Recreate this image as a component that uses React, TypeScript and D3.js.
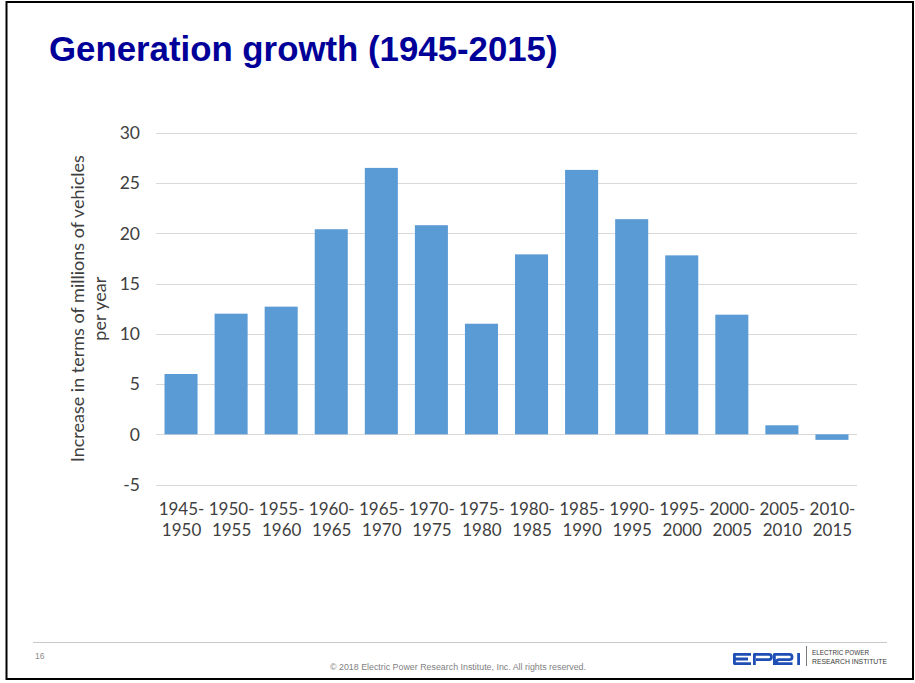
import React from "react";
import * as d3 from "d3";

// Five-year periods and the average yearly increase in vehicles (millions)
const periods = [
  "1945-1950", "1950-1955", "1955-1960", "1960-1965", "1965-1970",
  "1970-1975", "1975-1980", "1980-1985", "1985-1990", "1990-1995",
  "1995-2000", "2000-2005", "2005-2010", "2010-2015",
];
const increase = [6.0, 12.0, 12.7, 20.4, 26.5, 20.8, 11.0, 17.9, 26.3, 21.4, 17.8, 11.9, 0.9, -0.55];
const yTicks = [-5, 0, 5, 10, 15, 20, 25, 30];

const title = "Generation growth (1945-2015)";
const yTitleLines = ["Increase in  terms of millions of vehicles", "per year"];
const footerNote = "© 2018 Electric Power Research Institute, Inc. All rights reserved.";
const slideNumber = "16";

const W = 915;
const H = 683;
const plot = { left: 156, right: 857, top: 132.7, bottom: 484.6 };
const BAR = "#5b9bd5";
const GRID = "#d9d9d9";
const TEXT = "#404040";
const FONT = "Lato, 'Open Sans', sans-serif";

export default function App() {
  const x = d3
    .scaleBand<string>()
    .domain(periods)
    .range([plot.left, plot.right])
    .paddingInner(0.34)
    .paddingOuter(0.17);
  const y = d3.scaleLinear().domain([-5, 30]).range([plot.bottom, plot.top]);

  return (
    <svg
      width={W}
      height={H}
      viewBox={`0 0 ${W} ${H}`}
      style={{ position: "absolute", left: 0, top: 0, background: "#fff" }}
    >
      <rect x={0} y={0} width={W} height={H} fill="#fff" />
      {/* slide frame */}
      <rect x={6.5} y={2} width={906.5} height={677} fill="none" stroke="#000" strokeWidth={2} />

      <text
        x={49}
        y={60.5}
        fontFamily="'Liberation Sans', Arial, sans-serif"
        fontWeight="bold"
        fontSize={34.8}
        fill="#000099"
      >
        {title}
      </text>

      {/* gridlines */}
      {yTicks.map((t) => (
        <line
          key={t}
          x1={plot.left}
          x2={plot.right}
          y1={Math.round(y(t)) + 0.5}
          y2={Math.round(y(t)) + 0.5}
          stroke={GRID}
          strokeWidth={1.2}
        />
      ))}

      {/* y tick labels */}
      {yTicks.map((t) => (
        <text
          key={t}
          x={140}
          y={y(t)}
          dy="0.36em"
          textAnchor="end"
          fontFamily={FONT}
          fontSize={17.5}
          fill={TEXT}
        >
          {t}
        </text>
      ))}

      {/* bars */}
      {periods.map((p, i) => {
        const v = increase[i];
        const y0 = y(0);
        const yv = y(v);
        return (
          <rect
            key={p}
            x={x(p)}
            y={Math.min(y0, yv)}
            width={x.bandwidth()}
            height={Math.abs(yv - y0)}
            fill={BAR}
          />
        );
      })}

      {/* x category labels, split over two lines */}
      {periods.map((p) => {
        const [a, b] = p.split("-");
        const cx = (x(p) ?? 0) + x.bandwidth() / 2 + 0.5;
        return (
          <text key={p} textAnchor="middle" fontFamily={FONT} fontSize={17} fill={TEXT}>
            <tspan x={cx} y={514.5}>{a + "-"}</tspan>
            <tspan x={cx} y={536}>{b}</tspan>
          </text>
        );
      })}

      {/* y axis title */}
      <text
        transform={`translate(0, ${(plot.top + plot.bottom) / 2}) rotate(-90)`}
        textAnchor="middle"
        fontFamily={FONT}
        fontSize={18}
        fill={TEXT}
      >
        <tspan x={0} y={83.5}>{yTitleLines[0]}</tspan>
        <tspan x={0} y={105.5}>{yTitleLines[1]}</tspan>
      </text>

      {/* footer */}
      <line x1={33} x2={887} y1={642.5} y2={642.5} stroke="#c8c8c8" strokeWidth={1} />
      <text x={35} y={659} fontFamily="'Liberation Sans', Arial, sans-serif" fontSize={8.5} fill="#8c8c8c">
        {slideNumber}
      </text>
      <text
        x={458}
        y={670}
        textAnchor="middle"
        fontFamily="'Liberation Sans', Arial, sans-serif"
        fontSize={8.5}
        fill="#7f7f7f"
        textLength={256}
        lengthAdjust="spacingAndGlyphs"
      >
        {footerNote}
      </text>

      {/* EPRI logo */}
      <g fill="none" stroke="#1f4fb4" strokeWidth={2.8} strokeLinejoin="round" strokeLinecap="butt">
        <path d="M751,654.4 H734.4 V663.6 H751 M734.4,659 H748" />
        <path d="M754.4,665 V654.4 H769 Q771.4,654.4 771.4,656.8 V657.2 Q771.4,659.6 769,659.6 H756" />
        <path d="M774.4,665 V654.4 H789.6 Q792,654.4 792,656.8 V657.2 Q792,659.6 789.6,659.6 H779 Q776.6,659.6 776.6,662 V663.6 H792.5" />
        <path d="M798.6,653 V665" />
      </g>
      <line x1={806.5} x2={806.5} y1={646} y2={666} stroke="#7a7a7a" strokeWidth={1} />
      <text
        x={812}
        y={655}
        fontFamily="'Liberation Sans Narrow', 'Liberation Sans', Arial, sans-serif"
        fontSize={7.2}
        fill="#3a3a3a"
        textLength={57}
        lengthAdjust="spacingAndGlyphs"
      >
        ELECTRIC POWER
      </text>
      <text
        x={812}
        y={664}
        fontFamily="'Liberation Sans Narrow', 'Liberation Sans', Arial, sans-serif"
        fontSize={7.2}
        fill="#3a3a3a"
        textLength={75}
        lengthAdjust="spacingAndGlyphs"
      >
        RESEARCH INSTITUTE
      </text>
    </svg>
  );
}
